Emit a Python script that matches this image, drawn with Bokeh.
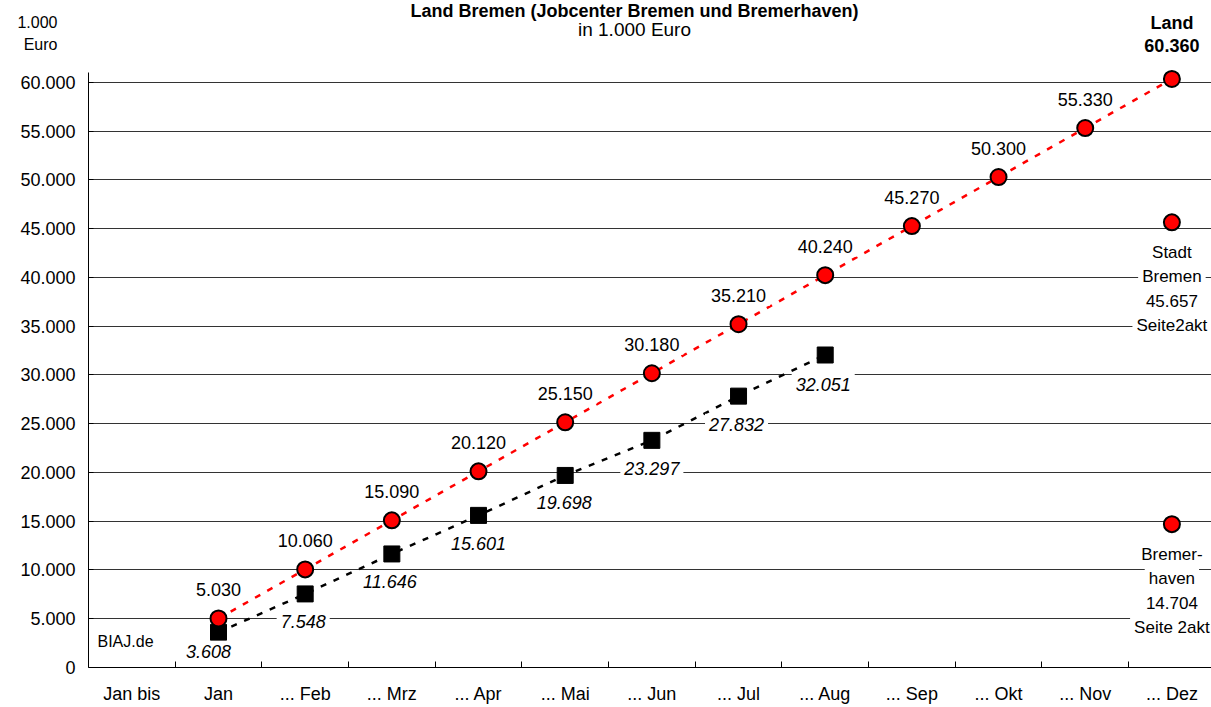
from bokeh.plotting import figure
from bokeh.models import Label, FixedTicker, Range1d
from bokeh.embed import file_html
from bokeh.resources import INLINE

categories = ["Jan bis", "Jan", "... Feb", "... Mrz", "... Apr", "... Mai", "... Jun",
              "... Jul", "... Aug", "... Sep", "... Okt", "... Nov", "... Dez"]
land_months = ["Jan", "... Feb", "... Mrz", "... Apr", "... Mai", "... Jun",
               "... Jul", "... Aug", "... Sep", "... Okt", "... Nov", "... Dez"]
land_values = [5030, 10060, 15090, 20120, 25150, 30180, 35210, 40240, 45270, 50300, 55330, 60360]
ist_months = ["Jan", "... Feb", "... Mrz", "... Apr", "... Mai", "... Jun", "... Jul", "... Aug"]
ist_values = [3608, 7548, 11646, 15601, 19698, 23297, 27832, 32051]
split_month = "... Dez"
split_values = [45657, 14704]
split_lines = [["Stadt", "Bremen", "45.657", "Seite2akt"],
               ["Bremer-", "haven", "14.704", "Seite 2akt"]]
land_last_lines = ["Land", "60.360"]
unit_lines = ["1.000", "Euro"]
y_ticks = list(range(0, 60001, 5000))

# label styling offsets (pixels)
ist_label_dx = [-10, -2, -2, 0, -1, 0, -2, -2]
ist_label_dy = [-19, -28, -28, -28, -27, -28, -28, -29]

FONT = "Liberation Sans"
HAS_PADDING = "padding" in Label.properties()


def de(v):
    return f"{v:,}".replace(",", ".")


def box_label(x, y, text, dx=0, dy=0, size="18px", style="normal", bg=True, baseline="middle"):
    kw = dict(x=x, y=y, x_offset=dx, y_offset=dy, text=text,
              text_align="center", text_baseline=baseline,
              text_font=FONT, text_font_size=size, text_font_style=style,
              text_color="black")
    if bg:
        kw["background_fill_color"] = "white"
        if HAS_PADDING:
            kw["padding"] = 4
    return Label(**kw)


x_land = [categories.index(m) for m in land_months]
x_ist = [categories.index(m) for m in ist_months]
x_split = [categories.index(split_month)] * len(split_values)

p = figure(width=1211, height=707, output_backend="svg", toolbar_location=None,
           x_range=Range1d(-0.5, 12.457), y_range=Range1d(0, 68410),
           min_border_left=88, min_border_right=0, min_border_top=0, min_border_bottom=40)
p.outline_line_color = None
p.background_fill_color = "white"

# y axis
p.yaxis.ticker = FixedTicker(ticks=y_ticks)
p.yaxis.bounds = (0, 61000)
p.yaxis.major_label_overrides = {v: de(v) for v in y_ticks}
p.yaxis.major_tick_in = 5
p.yaxis.major_tick_out = 0
p.yaxis.major_tick_line_color = "black"
p.yaxis.minor_tick_line_color = None
p.yaxis.major_label_standoff = 13

# x axis
p.xaxis.ticker = FixedTicker(ticks=list(range(len(categories))),
                             minor_ticks=[i + 0.5 for i in range(len(categories) - 1)])
p.xaxis.major_label_overrides = {i: c for i, c in enumerate(categories)}
p.xaxis.major_tick_line_color = None
p.xaxis.major_tick_in = 0
p.xaxis.major_tick_out = 0
p.xaxis.minor_tick_in = 6
p.xaxis.minor_tick_out = 0
p.xaxis.minor_tick_line_color = "black"
p.xaxis.major_label_standoff = 16

for ax in (p.xaxis, p.yaxis):
    ax.axis_line_color = "black"
    ax.axis_line_width = 1
    ax.major_label_text_font = FONT
    ax.major_label_text_font_size = "18px"
    ax.major_label_text_color = "black"

# unit text above y axis (axis label pinned to the top end, centred on the frame top)
yax = p.yaxis[0]
if "axis_label_align" in yax.properties():
    yax.axis_label = "\n\n\n" + "\n".join(unit_lines)
    yax.axis_label_orientation = "horizontal"
    yax.axis_label_align = "end"
    yax.axis_label_standoff = -40
    yax.axis_label_text_font = FONT
    yax.axis_label_text_font_size = "16px"
    yax.axis_label_text_line_height = 1.3
    yax.axis_label_text_font_style = "normal"
    yax.axis_label_text_color = "black"

p.xgrid.visible = False
p.ygrid.ticker = FixedTicker(ticks=y_ticks)
p.ygrid.grid_line_color = "black"
p.ygrid.grid_line_alpha = 0.8

# lines
p.line(x_land, land_values, line_color="red", line_width=2.5, line_dash="6 8")
p.line(x_ist, ist_values, line_color="black", line_width=2.5, line_dash="6 8")

# markers
p.scatter(x_ist, ist_values, marker="square", size=16, fill_color="black", line_color="black")
p.scatter(x_land, land_values, marker="circle", size=16, fill_color="red",
          line_color="black", line_width=2)
p.scatter(x_split, split_values, marker="circle", size=16, fill_color="red",
          line_color="black", line_width=2)

# value labels
for x, v in zip(x_land[:-1], land_values[:-1]):
    p.add_layout(box_label(x, v, de(v), dy=29))
for x, v, dx, dy in zip(x_ist, ist_values, ist_label_dx, ist_label_dy):
    p.add_layout(box_label(x, v, de(v), dx=dx, dy=dy, style="italic"))

# Dez annotations
for i, line in enumerate(land_last_lines):
    p.add_layout(box_label(x_land[-1], land_values[-1], line, dy=56 - 23 * i,
                           style="bold", bg=False))
for x, v, lines in zip(x_split, split_values, split_lines):
    for i, line in enumerate(lines):
        p.add_layout(box_label(x, v, line, dy=-30 - 24.4 * i, size="17px"))

# other texts
p.add_layout(Label(x=-0.5, y=0, x_offset=9, y_offset=26, text="BIAJ.de",
                   text_align="left", text_baseline="middle",
                   text_font=FONT, text_font_size="16px", text_color="black"))
p.add_layout(Label(x=546, y=667, x_units="screen", y_units="screen",
                   text="Land Bremen (Jobcenter Bremen und Bremerhaven)",
                   text_align="center", text_baseline="top",
                   text_font=FONT, text_font_size="18px", text_font_style="bold",
                   text_color="black"))
p.add_layout(Label(x=546, y=638, x_units="screen", y_units="screen",
                   text="in 1.000 Euro",
                   text_align="center", text_baseline="middle",
                   text_font=FONT, text_font_size="19px", text_color="black"))

open("out.html", "w").write(file_html(p, INLINE))
